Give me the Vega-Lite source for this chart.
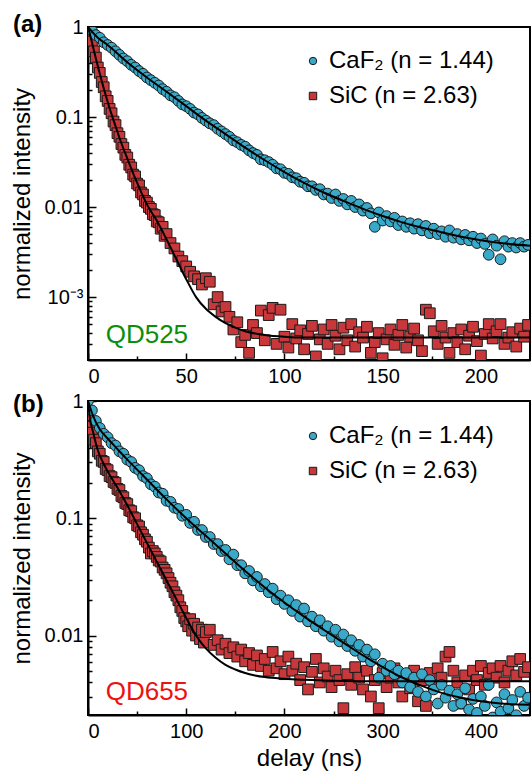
{
  "$schema": "https://vega.github.io/schema/vega-lite/v6.json",
  "padding": {"left": 9, "top": 12, "right": 3, "bottom": 0},
  "spacing": 0,
  "config": {
    "font": "Liberation Sans",
    "view": {"stroke": "black", "strokeWidth": 2},
    "axis": {"domainColor": "black", "domainWidth": 2, "tickColor": "black", "tickWidth": 1.5, "labelColor": "black", "labelFontSize": 20, "labelFont": "Liberation Sans", "titleFont": "Liberation Sans", "titleFontSize": 24, "titleFontWeight": "normal", "titleColor": "black", "grid": false, "labelOverlap": false},
    "legend": {"labelFontSize": 24, "labelFont": "Liberation Sans", "labelColor": "black", "symbolSize": 55, "symbolStrokeColor": "#1a1a1a", "symbolStrokeWidth": 1, "rowPadding": 11, "labelOffset": 4, "padding": 0, "orient": "none", "title": null, "labelLimit": 300},
    "title": {"font": "Liberation Sans", "fontSize": 24, "fontWeight": "bold", "color": "black", "anchor": "start", "frame": "bounds", "baseline": "alphabetic", "offset": 0}
  },
  "resolve": {"scale": {"color": "independent", "shape": "independent"}},
  "datasets": {
    "a_pts": [
      {"s":"SiC","t":0,"v":1},{"s":"SiC","t":1,"v":0.851},{"s":"SiC","t":2,"v":0.692},{"s":"SiC","t":3,"v":0.537},{"s":"SiC","t":4,"v":0.457},{"s":"SiC","t":5,"v":0.355},{"s":"SiC","t":6,"v":0.309},{"s":"SiC","t":7,"v":0.245},{"s":"SiC","t":8,"v":0.214},{"s":"SiC","t":9,"v":0.170},{"s":"SiC","t":10,"v":0.151},{"s":"SiC","t":11,"v":0.123},{"s":"SiC","t":12,"v":0.110},{"s":"SiC","t":13,"v":0.0891},{"s":"SiC","t":14,"v":0.0813},{"s":"SiC","t":15,"v":0.0661},{"s":"SiC","t":16,"v":0.0603},{"s":"SiC","t":17,"v":0.0501},{"s":"SiC","t":18,"v":0.0457},{"s":"SiC","t":19,"v":0.0380},{"s":"SiC","t":20,"v":0.0355},{"s":"SiC","t":21,"v":0.0295},{"s":"SiC","t":22,"v":0.0275},{"s":"SiC","t":23,"v":0.0229},{"s":"SiC","t":24,"v":0.0219},{"s":"SiC","t":25,"v":0.0182},{"s":"SiC","t":26,"v":0.0174},{"s":"SiC","t":27,"v":0.0145},{"s":"SiC","t":28,"v":0.0138},{"s":"SiC","t":29,"v":0.0117},{"s":"SiC","t":30,"v":0.0112},{"s":"SiC","t":31,"v":0.0100},{"s":"SiC","t":32,"v":0.00955},{"s":"SiC","t":33,"v":0.00832},{"s":"SiC","t":34,"v":0.00813},{"s":"SiC","t":35,"v":0.00692},{"s":"SiC","t":36,"v":0.00676},{"s":"SiC","t":37,"v":0.00575},{"s":"SiC","t":38,"v":0.00603},{"s":"SiC","t":39,"v":0.00479},{"s":"SiC","t":40,"v":0.00501},{"s":"SiC","t":42,"v":0.00398},{"s":"SiC","t":44,"v":0.00347},{"s":"SiC","t":46,"v":0.00282},{"s":"SiC","t":48,"v":0.00251},{"s":"SiC","t":50,"v":0.00219},{"s":"SiC","t":52,"v":0.00191},{"s":"SiC","t":54,"v":0.00170},{"s":"SiC","t":56,"v":0.00158},{"s":"SiC","t":58,"v":0.00138},{"s":"SiC","t":60,"v":0.00162},{"s":"SiC","t":62,"v":0.00148},{"s":"SiC","t":64,"v":0.000832},{"s":"SiC","t":66,"v":0.001},{"s":"SiC","t":68,"v":0.000692},{"s":"SiC","t":70,"v":0.000776},{"s":"SiC","t":72,"v":0.000603},{"s":"SiC","t":74,"v":0.000437},{"s":"SiC","t":76,"v":0.000525},{"s":"SiC","t":78,"v":0.000316},{"s":"SiC","t":80,"v":0.000380},{"s":"SiC","t":82,"v":0.000240},{"s":"SiC","t":84,"v":0.000490},{"s":"SiC","t":86,"v":0.000398},{"s":"SiC","t":88,"v":0.000708},{"s":"SiC","t":90,"v":0.000331},{"s":"SiC","t":92,"v":0.000631},{"s":"SiC","t":94,"v":0.000759},{"s":"SiC","t":96,"v":0.000302},{"s":"SiC","t":98,"v":0.000724},{"s":"SiC","t":100,"v":0.000363},{"s":"SiC","t":102,"v":0.000275},{"s":"SiC","t":104,"v":0.000501},{"s":"SiC","t":106,"v":0.000347},{"s":"SiC","t":108,"v":0.000427},{"s":"SiC","t":110,"v":0.000263},{"s":"SiC","t":112,"v":0.000389},{"s":"SiC","t":114,"v":0.000479},{"s":"SiC","t":116,"v":0.000219},{"s":"SiC","t":118,"v":0.000339},{"s":"SiC","t":120,"v":0.000437},{"s":"SiC","t":122,"v":0.000302},{"s":"SiC","t":124,"v":0.000490},{"s":"SiC","t":126,"v":0.000372},{"s":"SiC","t":128,"v":0.000263},{"s":"SiC","t":130,"v":0.000457},{"s":"SiC","t":132,"v":0.000331},{"s":"SiC","t":134,"v":0.000501},{"s":"SiC","t":136,"v":0.000282},{"s":"SiC","t":138,"v":0.000407},{"s":"SiC","t":140,"v":0.000355},{"s":"SiC","t":142,"v":0.000468},{"s":"SiC","t":144,"v":0.000240},{"s":"SiC","t":146,"v":0.000316},{"s":"SiC","t":148,"v":0.000398},{"s":"SiC","t":150,"v":0.000209},{"s":"SiC","t":152,"v":0.000339},{"s":"SiC","t":154,"v":0.000437},{"s":"SiC","t":156,"v":0.000295},{"s":"SiC","t":158,"v":0.000380},{"s":"SiC","t":160,"v":0.000490},{"s":"SiC","t":162,"v":0.000275},{"s":"SiC","t":164,"v":0.000363},{"s":"SiC","t":166,"v":0.000447},{"s":"SiC","t":168,"v":0.000331},{"s":"SiC","t":170,"v":0.000251},{"s":"SiC","t":172,"v":0.000724},{"s":"SiC","t":174,"v":0.000661},{"s":"SiC","t":176,"v":0.000417},{"s":"SiC","t":178,"v":0.000302},{"s":"SiC","t":180,"v":0.000479},{"s":"SiC","t":182,"v":0.000355},{"s":"SiC","t":184,"v":0.000240},{"s":"SiC","t":186,"v":0.000398},{"s":"SiC","t":188,"v":0.000316},{"s":"SiC","t":190,"v":0.000437},{"s":"SiC","t":192,"v":0.000263},{"s":"SiC","t":194,"v":0.000372},{"s":"SiC","t":196,"v":0.000468},{"s":"SiC","t":198,"v":0.000324},{"s":"SiC","t":200,"v":0.000224},{"s":"SiC","t":202,"v":0.000389},{"s":"SiC","t":204,"v":0.000501},{"s":"SiC","t":206,"v":0.000347},{"s":"SiC","t":208,"v":0.000417},{"s":"SiC","t":210,"v":0.000501},{"s":"SiC","t":212,"v":0.000302},{"s":"SiC","t":214,"v":0.000355},{"s":"SiC","t":216,"v":0.000407},{"s":"SiC","t":218,"v":0.000282},{"s":"SiC","t":220,"v":0.000447},{"s":"SiC","t":222,"v":0.000363},{"s":"SiC","t":224,"v":0.000490},
      {"s":"CaF2","t":0,"v":1},{"s":"CaF2","t":2,"v":0.912},{"s":"CaF2","t":4,"v":0.813},{"s":"CaF2","t":6,"v":0.759},{"s":"CaF2","t":8,"v":0.676},{"s":"CaF2","t":10,"v":0.631},{"s":"CaF2","t":12,"v":0.589},{"s":"CaF2","t":14,"v":0.537},{"s":"CaF2","t":16,"v":0.490},{"s":"CaF2","t":18,"v":0.447},{"s":"CaF2","t":20,"v":0.417},{"s":"CaF2","t":22,"v":0.380},{"s":"CaF2","t":24,"v":0.355},{"s":"CaF2","t":26,"v":0.324},{"s":"CaF2","t":28,"v":0.302},{"s":"CaF2","t":30,"v":0.275},{"s":"CaF2","t":32,"v":0.257},{"s":"CaF2","t":34,"v":0.240},{"s":"CaF2","t":36,"v":0.224},{"s":"CaF2","t":38,"v":0.204},{"s":"CaF2","t":40,"v":0.191},{"s":"CaF2","t":42,"v":0.174},{"s":"CaF2","t":44,"v":0.166},{"s":"CaF2","t":46,"v":0.151},{"s":"CaF2","t":48,"v":0.138},{"s":"CaF2","t":50,"v":0.132},{"s":"CaF2","t":52,"v":0.123},{"s":"CaF2","t":54,"v":0.112},{"s":"CaF2","t":56,"v":0.107},{"s":"CaF2","t":58,"v":0.0977},{"s":"CaF2","t":60,"v":0.0912},{"s":"CaF2","t":62,"v":0.0851},{"s":"CaF2","t":64,"v":0.0813},{"s":"CaF2","t":66,"v":0.0741},{"s":"CaF2","t":68,"v":0.0692},{"s":"CaF2","t":70,"v":0.0646},{"s":"CaF2","t":72,"v":0.0603},{"s":"CaF2","t":74,"v":0.0550},{"s":"CaF2","t":76,"v":0.0525},{"s":"CaF2","t":78,"v":0.0490},{"s":"CaF2","t":80,"v":0.0468},{"s":"CaF2","t":82,"v":0.0427},{"s":"CaF2","t":84,"v":0.0398},{"s":"CaF2","t":86,"v":0.0380},{"s":"CaF2","t":88,"v":0.0339},{"s":"CaF2","t":90,"v":0.0331},{"s":"CaF2","t":92,"v":0.0316},{"s":"CaF2","t":94,"v":0.0295},{"s":"CaF2","t":96,"v":0.0269},{"s":"CaF2","t":98,"v":0.0263},{"s":"CaF2","t":100,"v":0.0240},{"s":"CaF2","t":102,"v":0.0234},{"s":"CaF2","t":104,"v":0.0214},{"s":"CaF2","t":106,"v":0.0209},{"s":"CaF2","t":108,"v":0.0191},{"s":"CaF2","t":110,"v":0.0186},{"s":"CaF2","t":112,"v":0.0170},{"s":"CaF2","t":114,"v":0.0170},{"s":"CaF2","t":116,"v":0.0155},{"s":"CaF2","t":118,"v":0.0158},{"s":"CaF2","t":120,"v":0.0138},{"s":"CaF2","t":122,"v":0.0141},{"s":"CaF2","t":124,"v":0.0126},{"s":"CaF2","t":126,"v":0.0138},{"s":"CaF2","t":128,"v":0.0117},{"s":"CaF2","t":130,"v":0.0123},{"s":"CaF2","t":132,"v":0.0107},{"s":"CaF2","t":134,"v":0.0117},{"s":"CaF2","t":136,"v":0.0100},{"s":"CaF2","t":138,"v":0.0107},{"s":"CaF2","t":140,"v":0.00912},{"s":"CaF2","t":142,"v":0.00977},{"s":"CaF2","t":144,"v":0.00851},{"s":"CaF2","t":146,"v":0.00603},{"s":"CaF2","t":148,"v":0.00871},{"s":"CaF2","t":150,"v":0.00708},{"s":"CaF2","t":152,"v":0.00794},{"s":"CaF2","t":154,"v":0.00692},{"s":"CaF2","t":156,"v":0.00759},{"s":"CaF2","t":158,"v":0.00631},{"s":"CaF2","t":160,"v":0.00692},{"s":"CaF2","t":162,"v":0.00603},{"s":"CaF2","t":164,"v":0.00661},{"s":"CaF2","t":166,"v":0.00575},{"s":"CaF2","t":168,"v":0.00646},{"s":"CaF2","t":170,"v":0.00550},{"s":"CaF2","t":172,"v":0.00617},{"s":"CaF2","t":174,"v":0.00513},{"s":"CaF2","t":176,"v":0.00575},{"s":"CaF2","t":178,"v":0.00501},{"s":"CaF2","t":180,"v":0.00537},{"s":"CaF2","t":182,"v":0.00468},{"s":"CaF2","t":184,"v":0.00550},{"s":"CaF2","t":186,"v":0.00457},{"s":"CaF2","t":188,"v":0.00501},{"s":"CaF2","t":190,"v":0.00437},{"s":"CaF2","t":192,"v":0.00490},{"s":"CaF2","t":194,"v":0.00427},{"s":"CaF2","t":196,"v":0.00468},{"s":"CaF2","t":198,"v":0.00398},{"s":"CaF2","t":200,"v":0.00447},{"s":"CaF2","t":202,"v":0.00389},{"s":"CaF2","t":204,"v":0.00295},{"s":"CaF2","t":206,"v":0.00437},{"s":"CaF2","t":208,"v":0.00372},{"s":"CaF2","t":210,"v":0.00263},{"s":"CaF2","t":212,"v":0.00417},{"s":"CaF2","t":214,"v":0.00363},{"s":"CaF2","t":216,"v":0.00398},{"s":"CaF2","t":218,"v":0.00355},{"s":"CaF2","t":220,"v":0.00398},{"s":"CaF2","t":222,"v":0.00363},{"s":"CaF2","t":224,"v":0.00380}
    ],
    "a_fit": [
      {"s":"CaF2","t":0,"v":1},{"s":"CaF2","t":5,"v":0.76},{"s":"CaF2","t":10,"v":0.631},{"s":"CaF2","t":20,"v":0.407},{"s":"CaF2","t":30,"v":0.275},{"s":"CaF2","t":40,"v":0.191},{"s":"CaF2","t":50,"v":0.132},{"s":"CaF2","t":60,"v":0.0912},{"s":"CaF2","t":70,"v":0.0646},{"s":"CaF2","t":80,"v":0.0457},{"s":"CaF2","t":90,"v":0.0331},{"s":"CaF2","t":100,"v":0.0245},{"s":"CaF2","t":110,"v":0.0186},{"s":"CaF2","t":120,"v":0.0145},{"s":"CaF2","t":130,"v":0.0117},{"s":"CaF2","t":140,"v":0.00955},{"s":"CaF2","t":150,"v":0.00794},{"s":"CaF2","t":160,"v":0.00676},{"s":"CaF2","t":170,"v":0.00589},{"s":"CaF2","t":180,"v":0.00525},{"s":"CaF2","t":190,"v":0.00468},{"s":"CaF2","t":200,"v":0.00427},{"s":"CaF2","t":210,"v":0.00398},{"s":"CaF2","t":225,"v":0.00372},
      {"s":"SiC","t":0,"v":1},{"s":"SiC","t":2,"v":0.676},{"s":"SiC","t":4,"v":0.447},{"s":"SiC","t":6,"v":0.302},{"s":"SiC","t":8,"v":0.209},{"s":"SiC","t":10,"v":0.148},{"s":"SiC","t":12,"v":0.107},{"s":"SiC","t":14,"v":0.0794},{"s":"SiC","t":16,"v":0.0589},{"s":"SiC","t":18,"v":0.0447},{"s":"SiC","t":20,"v":0.0347},{"s":"SiC","t":22,"v":0.0269},{"s":"SiC","t":24,"v":0.0209},{"s":"SiC","t":26,"v":0.0166},{"s":"SiC","t":28,"v":0.0132},{"s":"SiC","t":30,"v":0.0107},{"s":"SiC","t":35,"v":0.00708},{"s":"SiC","t":40,"v":0.00437},{"s":"SiC","t":45,"v":0.00263},{"s":"SiC","t":50,"v":0.00158},{"s":"SiC","t":55,"v":0.001},{"s":"SiC","t":60,"v":0.000741},{"s":"SiC","t":65,"v":0.000603},{"s":"SiC","t":70,"v":0.000513},{"s":"SiC","t":75,"v":0.000457},{"s":"SiC","t":80,"v":0.000417},{"s":"SiC","t":90,"v":0.000380},{"s":"SiC","t":100,"v":0.000363},{"s":"SiC","t":110,"v":0.000355},{"s":"SiC","t":225,"v":0.000355}
    ],
    "b_pts": [
      {"s":"SiC","t":0,"v":0.759},{"s":"SiC","t":2,"v":0.603},{"s":"SiC","t":4,"v":0.537},{"s":"SiC","t":6,"v":0.468},{"s":"SiC","t":8,"v":0.437},{"s":"SiC","t":10,"v":0.372},{"s":"SiC","t":12,"v":0.355},{"s":"SiC","t":14,"v":0.309},{"s":"SiC","t":16,"v":0.302},{"s":"SiC","t":18,"v":0.263},{"s":"SiC","t":20,"v":0.257},{"s":"SiC","t":22,"v":0.229},{"s":"SiC","t":24,"v":0.224},{"s":"SiC","t":26,"v":0.204},{"s":"SiC","t":28,"v":0.200},{"s":"SiC","t":30,"v":0.178},{"s":"SiC","t":32,"v":0.174},{"s":"SiC","t":34,"v":0.155},{"s":"SiC","t":36,"v":0.151},{"s":"SiC","t":38,"v":0.135},{"s":"SiC","t":40,"v":0.132},{"s":"SiC","t":42,"v":0.117},{"s":"SiC","t":44,"v":0.115},{"s":"SiC","t":46,"v":0.102},{"s":"SiC","t":48,"v":0.100},{"s":"SiC","t":50,"v":0.0871},{"s":"SiC","t":52,"v":0.0851},{"s":"SiC","t":54,"v":0.0759},{"s":"SiC","t":56,"v":0.0724},{"s":"SiC","t":58,"v":0.0661},{"s":"SiC","t":60,"v":0.0631},{"s":"SiC","t":62,"v":0.0562},{"s":"SiC","t":64,"v":0.0501},{"s":"SiC","t":66,"v":0.0525},{"s":"SiC","t":68,"v":0.0501},{"s":"SiC","t":70,"v":0.0468},{"s":"SiC","t":72,"v":0.0437},{"s":"SiC","t":74,"v":0.0427},{"s":"SiC","t":76,"v":0.0380},{"s":"SiC","t":78,"v":0.0363},{"s":"SiC","t":80,"v":0.0339},{"s":"SiC","t":82,"v":0.0309},{"s":"SiC","t":84,"v":0.0282},{"s":"SiC","t":86,"v":0.0263},{"s":"SiC","t":88,"v":0.0234},{"s":"SiC","t":90,"v":0.0219},{"s":"SiC","t":92,"v":0.0200},{"s":"SiC","t":94,"v":0.0174},{"s":"SiC","t":96,"v":0.0162},{"s":"SiC","t":98,"v":0.0141},{"s":"SiC","t":100,"v":0.0132},{"s":"SiC","t":102,"v":0.0120},{"s":"SiC","t":104,"v":0.0138},{"s":"SiC","t":106,"v":0.0110},{"s":"SiC","t":108,"v":0.0126},{"s":"SiC","t":110,"v":0.0100},{"s":"SiC","t":112,"v":0.0117},{"s":"SiC","t":114,"v":0.00933},{"s":"SiC","t":116,"v":0.0112},{"s":"SiC","t":118,"v":0.00871},{"s":"SiC","t":120,"v":0.0107},{"s":"SiC","t":124,"v":0.0112},{"s":"SiC","t":128,"v":0.00832},{"s":"SiC","t":132,"v":0.00912},{"s":"SiC","t":136,"v":0.00759},{"s":"SiC","t":140,"v":0.00851},{"s":"SiC","t":144,"v":0.00708},{"s":"SiC","t":148,"v":0.00794},{"s":"SiC","t":152,"v":0.00661},{"s":"SiC","t":156,"v":0.00759},{"s":"SiC","t":160,"v":0.00603},{"s":"SiC","t":164,"v":0.00708},{"s":"SiC","t":168,"v":0.00562},{"s":"SiC","t":172,"v":0.00676},{"s":"SiC","t":176,"v":0.00550},{"s":"SiC","t":180,"v":0.00631},{"s":"SiC","t":184,"v":0.00501},{"s":"SiC","t":188,"v":0.00724},{"s":"SiC","t":192,"v":0.00525},{"s":"SiC","t":196,"v":0.00603},{"s":"SiC","t":200,"v":0.00468},{"s":"SiC","t":204,"v":0.00661},{"s":"SiC","t":208,"v":0.00501},{"s":"SiC","t":212,"v":0.00575},{"s":"SiC","t":216,"v":0.00417},{"s":"SiC","t":220,"v":0.00537},{"s":"SiC","t":224,"v":0.00347},{"s":"SiC","t":228,"v":0.00490},{"s":"SiC","t":232,"v":0.00631},{"s":"SiC","t":236,"v":0.00398},{"s":"SiC","t":240,"v":0.00525},{"s":"SiC","t":244,"v":0.00447},{"s":"SiC","t":248,"v":0.00363},{"s":"SiC","t":252,"v":0.00501},{"s":"SiC","t":256,"v":0.00417},{"s":"SiC","t":260,"v":0.00240},{"s":"SiC","t":264,"v":0.00468},{"s":"SiC","t":268,"v":0.00380},{"s":"SiC","t":272,"v":0.00537},{"s":"SiC","t":276,"v":0.00437},{"s":"SiC","t":280,"v":0.00347},{"s":"SiC","t":284,"v":0.00501},{"s":"SiC","t":288,"v":0.00302},{"s":"SiC","t":292,"v":0.00417},{"s":"SiC","t":296,"v":0.00240},{"s":"SiC","t":300,"v":0.00479},{"s":"SiC","t":304,"v":0.00363},{"s":"SiC","t":308,"v":0.00437},{"s":"SiC","t":312,"v":0.00525},{"s":"SiC","t":316,"v":0.00398},{"s":"SiC","t":320,"v":0.00302},{"s":"SiC","t":324,"v":0.00457},{"s":"SiC","t":328,"v":0.00355},{"s":"SiC","t":332,"v":0.00501},{"s":"SiC","t":336,"v":0.00275},{"s":"SiC","t":340,"v":0.00417},{"s":"SiC","t":344,"v":0.00251},{"s":"SiC","t":348,"v":0.00479},{"s":"SiC","t":352,"v":0.00380},{"s":"SiC","t":356,"v":0.00525},{"s":"SiC","t":360,"v":0.00437},{"s":"SiC","t":364,"v":0.00661},{"s":"SiC","t":368,"v":0.00724},{"s":"SiC","t":372,"v":0.00501},{"s":"SiC","t":376,"v":0.00398},{"s":"SiC","t":380,"v":0.00263},{"s":"SiC","t":384,"v":0.00457},{"s":"SiC","t":388,"v":0.00347},{"s":"SiC","t":392,"v":0.00501},{"s":"SiC","t":396,"v":0.00417},{"s":"SiC","t":400,"v":0.00550},{"s":"SiC","t":404,"v":0.00380},{"s":"SiC","t":408,"v":0.00479},{"s":"SiC","t":412,"v":0.00525},{"s":"SiC","t":416,"v":0.00437},{"s":"SiC","t":420,"v":0.00550},{"s":"SiC","t":424,"v":0.00398},{"s":"SiC","t":428,"v":0.00501},{"s":"SiC","t":432,"v":0.00603},{"s":"SiC","t":436,"v":0.00457},{"s":"SiC","t":440,"v":0.00631},{"s":"SiC","t":444,"v":0.00490},{"s":"SiC","t":448,"v":0.00537},
      {"s":"CaF2","t":0,"v":1},{"s":"CaF2","t":4,"v":0.832},{"s":"CaF2","t":8,"v":0.676},{"s":"CaF2","t":12,"v":0.589},{"s":"CaF2","t":16,"v":0.525},{"s":"CaF2","t":20,"v":0.490},{"s":"CaF2","t":24,"v":0.437},{"s":"CaF2","t":28,"v":0.417},{"s":"CaF2","t":32,"v":0.372},{"s":"CaF2","t":36,"v":0.355},{"s":"CaF2","t":40,"v":0.316},{"s":"CaF2","t":44,"v":0.302},{"s":"CaF2","t":48,"v":0.269},{"s":"CaF2","t":52,"v":0.257},{"s":"CaF2","t":56,"v":0.229},{"s":"CaF2","t":60,"v":0.219},{"s":"CaF2","t":64,"v":0.195},{"s":"CaF2","t":68,"v":0.186},{"s":"CaF2","t":72,"v":0.166},{"s":"CaF2","t":76,"v":0.162},{"s":"CaF2","t":80,"v":0.141},{"s":"CaF2","t":84,"v":0.138},{"s":"CaF2","t":88,"v":0.123},{"s":"CaF2","t":92,"v":0.120},{"s":"CaF2","t":96,"v":0.105},{"s":"CaF2","t":100,"v":0.107},{"s":"CaF2","t":104,"v":0.0912},{"s":"CaF2","t":108,"v":0.0933},{"s":"CaF2","t":112,"v":0.0794},{"s":"CaF2","t":116,"v":0.0794},{"s":"CaF2","t":120,"v":0.0692},{"s":"CaF2","t":124,"v":0.0692},{"s":"CaF2","t":128,"v":0.0603},{"s":"CaF2","t":132,"v":0.0603},{"s":"CaF2","t":136,"v":0.0525},{"s":"CaF2","t":140,"v":0.0537},{"s":"CaF2","t":144,"v":0.0447},{"s":"CaF2","t":148,"v":0.0490},{"s":"CaF2","t":152,"v":0.0398},{"s":"CaF2","t":156,"v":0.0398},{"s":"CaF2","t":160,"v":0.0339},{"s":"CaF2","t":164,"v":0.0355},{"s":"CaF2","t":168,"v":0.0295},{"s":"CaF2","t":172,"v":0.0316},{"s":"CaF2","t":176,"v":0.0263},{"s":"CaF2","t":180,"v":0.0275},{"s":"CaF2","t":184,"v":0.0234},{"s":"CaF2","t":188,"v":0.0251},{"s":"CaF2","t":192,"v":0.0204},{"s":"CaF2","t":196,"v":0.0219},{"s":"CaF2","t":200,"v":0.0186},{"s":"CaF2","t":204,"v":0.0200},{"s":"CaF2","t":208,"v":0.0162},{"s":"CaF2","t":212,"v":0.0182},{"s":"CaF2","t":216,"v":0.0145},{"s":"CaF2","t":220,"v":0.0170},{"s":"CaF2","t":224,"v":0.0132},{"s":"CaF2","t":228,"v":0.0145},{"s":"CaF2","t":232,"v":0.0120},{"s":"CaF2","t":236,"v":0.0135},{"s":"CaF2","t":240,"v":0.0110},{"s":"CaF2","t":244,"v":0.0120},{"s":"CaF2","t":248,"v":0.00977},{"s":"CaF2","t":252,"v":0.0112},{"s":"CaF2","t":256,"v":0.00891},{"s":"CaF2","t":260,"v":0.0102},{"s":"CaF2","t":264,"v":0.00813},{"s":"CaF2","t":268,"v":0.00912},{"s":"CaF2","t":272,"v":0.00741},{"s":"CaF2","t":276,"v":0.00832},{"s":"CaF2","t":280,"v":0.00661},{"s":"CaF2","t":284,"v":0.00759},{"s":"CaF2","t":288,"v":0.00603},{"s":"CaF2","t":292,"v":0.00692},{"s":"CaF2","t":296,"v":0.00437},{"s":"CaF2","t":300,"v":0.00575},{"s":"CaF2","t":304,"v":0.00501},{"s":"CaF2","t":308,"v":0.00550},{"s":"CaF2","t":312,"v":0.00468},{"s":"CaF2","t":316,"v":0.00501},{"s":"CaF2","t":320,"v":0.00398},{"s":"CaF2","t":324,"v":0.00479},{"s":"CaF2","t":328,"v":0.00363},{"s":"CaF2","t":332,"v":0.00437},{"s":"CaF2","t":336,"v":0.00331},{"s":"CaF2","t":340,"v":0.00468},{"s":"CaF2","t":344,"v":0.00302},{"s":"CaF2","t":348,"v":0.00417},{"s":"CaF2","t":352,"v":0.00347},{"s":"CaF2","t":356,"v":0.00263},{"s":"CaF2","t":360,"v":0.00380},{"s":"CaF2","t":364,"v":0.00295},{"s":"CaF2","t":368,"v":0.00339},{"s":"CaF2","t":372,"v":0.00251},{"s":"CaF2","t":376,"v":0.00316},{"s":"CaF2","t":380,"v":0.00263},{"s":"CaF2","t":384,"v":0.00355},{"s":"CaF2","t":388,"v":0.00234},{"s":"CaF2","t":392,"v":0.00288},{"s":"CaF2","t":396,"v":0.00219},{"s":"CaF2","t":400,"v":0.00302},{"s":"CaF2","t":404,"v":0.00251},{"s":"CaF2","t":408,"v":0.00380},{"s":"CaF2","t":412,"v":0.00200},{"s":"CaF2","t":416,"v":0.00269},{"s":"CaF2","t":420,"v":0.00224},{"s":"CaF2","t":424,"v":0.00316},{"s":"CaF2","t":428,"v":0.00240},{"s":"CaF2","t":432,"v":0.00282},{"s":"CaF2","t":436,"v":0.00209},{"s":"CaF2","t":440,"v":0.00331},{"s":"CaF2","t":444,"v":0.00251},{"s":"CaF2","t":448,"v":0.00295}
    ],
    "b_fit": [
      {"s":"CaF2","t":0,"v":1},{"s":"CaF2","t":4,"v":0.794},{"s":"CaF2","t":8,"v":0.661},{"s":"CaF2","t":12,"v":0.575},{"s":"CaF2","t":20,"v":0.479},{"s":"CaF2","t":30,"v":0.389},{"s":"CaF2","t":40,"v":0.316},{"s":"CaF2","t":60,"v":0.214},{"s":"CaF2","t":80,"v":0.145},{"s":"CaF2","t":100,"v":0.1},{"s":"CaF2","t":120,"v":0.0708},{"s":"CaF2","t":140,"v":0.0501},{"s":"CaF2","t":160,"v":0.0355},{"s":"CaF2","t":180,"v":0.0257},{"s":"CaF2","t":200,"v":0.0191},{"s":"CaF2","t":220,"v":0.0145},{"s":"CaF2","t":240,"v":0.0112},{"s":"CaF2","t":260,"v":0.00871},{"s":"CaF2","t":280,"v":0.00676},{"s":"CaF2","t":300,"v":0.00537},{"s":"CaF2","t":320,"v":0.00437},{"s":"CaF2","t":340,"v":0.00372},{"s":"CaF2","t":360,"v":0.00324},{"s":"CaF2","t":380,"v":0.00295},{"s":"CaF2","t":400,"v":0.00275},{"s":"CaF2","t":420,"v":0.00263},{"s":"CaF2","t":450,"v":0.00257},
      {"s":"SiC","t":0,"v":1},{"s":"SiC","t":2,"v":0.708},{"s":"SiC","t":5,"v":0.550},{"s":"SiC","t":10,"v":0.380},{"s":"SiC","t":15,"v":0.302},{"s":"SiC","t":20,"v":0.251},{"s":"SiC","t":30,"v":0.182},{"s":"SiC","t":40,"v":0.129},{"s":"SiC","t":50,"v":0.0891},{"s":"SiC","t":60,"v":0.0617},{"s":"SiC","t":70,"v":0.0427},{"s":"SiC","t":80,"v":0.0295},{"s":"SiC","t":90,"v":0.0204},{"s":"SiC","t":100,"v":0.0141},{"s":"SiC","t":110,"v":0.0100},{"s":"SiC","t":120,"v":0.00776},{"s":"SiC","t":130,"v":0.00646},{"s":"SiC","t":140,"v":0.00562},{"s":"SiC","t":150,"v":0.00513},{"s":"SiC","t":160,"v":0.00479},{"s":"SiC","t":170,"v":0.00457},{"s":"SiC","t":180,"v":0.00442},{"s":"SiC","t":200,"v":0.00427},{"s":"SiC","t":250,"v":0.00412},{"s":"SiC","t":300,"v":0.00407},{"s":"SiC","t":450,"v":0.00407}
    ]
  },
  "vconcat": [
    {
      "width": 442, "height": 333,
      "title": {"text": "(a)", "dx": 3, "dy": 24},
      "layer": [
        {
          "data": {"name": "a_pts"},
          "mark": {"type": "point", "filled": true, "opacity": 1, "stroke": "#1a1a1a", "strokeWidth": 1, "size": 115, "clip": true},
          "encoding": {
            "x": {"field": "t", "type": "quantitative", "scale": {"domain": [0, 225], "nice": false, "zero": false},
                  "axis": {"title": null, "values": [0,25,50,75,100,125,150,175,200], "labelExpr": "datum.value % 50 == 0 ? datum.label : ''", "tickSize": {"condition": {"test": "datum.value % 50 == 0", "value": -7}, "value": -4}, "labelPadding": 13}},
            "y": {"field": "v", "type": "quantitative", "scale": {"type": "log", "domain": [0.0002, 1], "nice": false},
                  "axis": {"title": "normalized intensity", "titlePadding": 10, "minExtent": 44, "maxExtent": 44,
                           "values": [1,0.9,0.8,0.7,0.6,0.5,0.4,0.3,0.2,0.1,0.09,0.08,0.07,0.06,0.05,0.04,0.03,0.02,0.01,0.009,0.008,0.007,0.006,0.005,0.004,0.003,0.002,0.001,0.0009,0.0008,0.0007,0.0006,0.0005,0.0004,0.0003],
                           "labelExpr": "datum.value == 1 ? '1' : datum.value == 0.1 ? '0.1' : datum.value == 0.01 ? '0.01' : datum.value == 0.001 ? '10⁻³' : ''",
                           "tickSize": {"condition": {"test": "indexof([1,0.1,0.01,0.001], datum.value) >= 0", "value": -8}, "value": -4}, "labelPadding": 13}},
            "color": {"field": "s", "type": "nominal", "scale": {"domain": ["CaF2", "SiC"], "range": ["#38a9c8", "#c8373a"]},
                      "legend": {"legendX": 213, "legendY": 22, "labelExpr": "datum.label == 'CaF2' ? 'CaF₂ (n = 1.44)' : 'SiC (n = 2.63)'"}},
            "shape": {"field": "s", "type": "nominal", "scale": {"domain": ["CaF2", "SiC"], "range": ["circle", "square"]},
                      "legend": {"legendX": 213, "legendY": 22, "labelExpr": "datum.label == 'CaF2' ? 'CaF₂ (n = 1.44)' : 'SiC (n = 2.63)'"}}
          }
        },
        {
          "data": {"name": "a_fit"},
          "mark": {"type": "line", "color": "black", "strokeWidth": 2, "interpolate": "monotone", "clip": true},
          "encoding": {"x": {"field": "t", "type": "quantitative"}, "y": {"field": "v", "type": "quantitative"}, "detail": {"field": "s"}}
        },
        {
          "data": {"values": [{}]},
          "mark": {"type": "text", "text": "QD525", "fontSize": 26, "color": "#0b8f0b", "align": "left", "baseline": "alphabetic", "font": "Liberation Sans"},
          "encoding": {"x": {"datum": 9}, "y": {"datum": 0.00031}}
        }
      ]
    },
    {
      "width": 442, "height": 314,
      "title": {"text": "(b)", "dx": 3, "dy": 30},
      "layer": [
        {
          "data": {"name": "b_pts"},
          "mark": {"type": "point", "filled": true, "opacity": 1, "stroke": "#1a1a1a", "strokeWidth": 1, "size": 115, "clip": true},
          "encoding": {
            "x": {"field": "t", "type": "quantitative", "scale": {"domain": [0, 450], "nice": false, "zero": false},
                  "axis": {"title": "delay (ns)", "titlePadding": 2, "values": [0,50,100,150,200,250,300,350,400], "labelExpr": "datum.value % 100 == 0 ? datum.label : ''", "tickSize": {"condition": {"test": "datum.value % 100 == 0", "value": -7}, "value": -4}, "labelPadding": 13}},
            "y": {"field": "v", "type": "quantitative", "scale": {"type": "log", "domain": [0.0021, 1], "nice": false},
                  "axis": {"title": "normalized intensity", "titlePadding": 10, "minExtent": 44, "maxExtent": 44,
                           "values": [1,0.9,0.8,0.7,0.6,0.5,0.4,0.3,0.2,0.1,0.09,0.08,0.07,0.06,0.05,0.04,0.03,0.02,0.01,0.009,0.008,0.007,0.006,0.005,0.004,0.003],
                           "labelExpr": "datum.value == 1 ? '1' : datum.value == 0.1 ? '0.1' : datum.value == 0.01 ? '0.01' : ''",
                           "tickSize": {"condition": {"test": "indexof([1,0.1,0.01], datum.value) >= 0", "value": -8}, "value": -4}, "labelPadding": 13}},
            "color": {"field": "s", "type": "nominal", "scale": {"domain": ["CaF2", "SiC"], "range": ["#38a9c8", "#c8373a"]},
                      "legend": {"legendX": 213, "legendY": 23, "labelExpr": "datum.label == 'CaF2' ? 'CaF₂ (n = 1.44)' : 'SiC (n = 2.63)'"}},
            "shape": {"field": "s", "type": "nominal", "scale": {"domain": ["CaF2", "SiC"], "range": ["circle", "square"]},
                      "legend": {"legendX": 213, "legendY": 23, "labelExpr": "datum.label == 'CaF2' ? 'CaF₂ (n = 1.44)' : 'SiC (n = 2.63)'"}}
          }
        },
        {
          "data": {"name": "b_fit"},
          "mark": {"type": "line", "color": "black", "strokeWidth": 2, "interpolate": "monotone", "clip": true},
          "encoding": {"x": {"field": "t", "type": "quantitative"}, "y": {"field": "v", "type": "quantitative"}, "detail": {"field": "s"}}
        },
        {
          "data": {"values": [{}]},
          "mark": {"type": "text", "text": "QD655", "fontSize": 26, "color": "#ee1111", "align": "left", "baseline": "alphabetic", "font": "Liberation Sans"},
          "encoding": {"x": {"datum": 18}, "y": {"datum": 0.00284}}
        }
      ]
    }
  ]
}
